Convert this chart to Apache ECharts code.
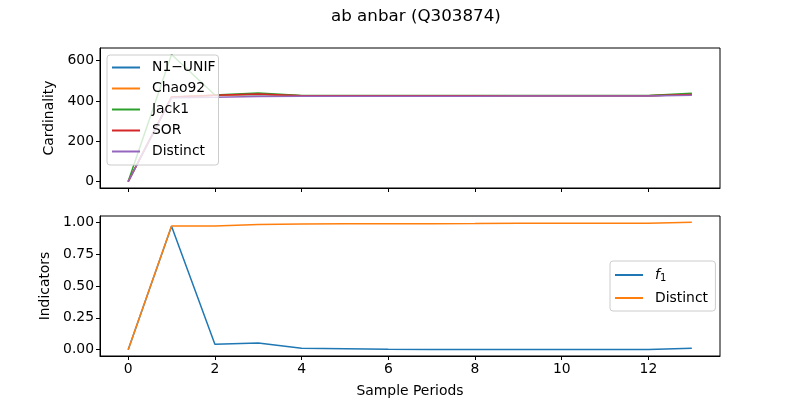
<!DOCTYPE html>
<html>
<head>
<meta charset="utf-8">
<script src="https://cdn.jsdelivr.net/npm/echarts@6/dist/echarts.min.js"></script>
<style>
  html, body { margin: 0; padding: 0; background: #fff; }
  #chart { width: 800px; height: 400px; }
</style>
</head>
<body>
<div id="chart"></div>
<script>
var TITLE_ = 'ab anbar (Q303874)';
var periods = [0, 1, 2, 3, 4, 5, 6, 7, 8, 9, 10, 11, 12, 13];
var xTicks = [0, 2, 4, 6, 8, 10, 12];
var cardTicks = [0, 200, 400, 600];
var indTicks = [0, 0.25, 0.5, 0.75, 1.0];

// cardinality estimates (top panel)
var n1Unif = [0, 418, 428, 432, 426, 426, 426, 426, 426, 426, 426, 426, 426, 432];
var chao92 = [0, 420, 428, 433, 426, 426, 426, 426, 426, 426, 426, 426, 426, 433];
var jack1 = [0, 631, 430, 440, 427, 427, 427, 427, 427, 427, 427, 427, 427, 438];
var sor = [0, 420, 428, 435, 426, 426, 426, 426, 426, 426, 426, 426, 426, 432];
var distinct = [0, 416, 418, 422, 424, 424, 424, 424, 424, 425, 425, 425, 425, 428];

// indicators (bottom panel)
var f1 = [0, 0.97, 0.043, 0.053, 0.010, 0.007, 0.004, 0.002, 0.002, 0.002, 0.002, 0.002, 0.002, 0.011];
var distinctRatio = [0, 0.971, 0.972, 0.984, 0.987, 0.989, 0.990, 0.990, 0.991, 0.993, 0.993, 0.993, 0.993, 1.0];

var color = ['#1f77b4', '#ff7f0e', '#2ca02c', '#d62728', '#9467bd'];
var FONT = 'DejaVu Sans';
var FS = 13.9;

function pairs(vals) {
	var out = [];
	for (var i = 0; i < periods.length; i++) {
		out.push([periods[i], vals[i]]);
	}
	return out;
}

function lineSerie(name, vals, c, idx) {
	return {
		name: name,
		type: 'line',
		xAxisIndex: idx,
		yAxisIndex: idx,
		data: pairs(vals),
		symbol: 'none',
		smooth: false,
		lineStyle: { color: c, width: 1.5 },
		itemStyle: { color: c },
		animation: false
	};
}

function xAxisDef(idx, showLabels) {
	return {
		type: 'value',
		gridIndex: idx,
		min: -0.65,
		max: 13.65,
		name: showLabels ? 'Sample Periods' : '',
		nameLocation: 'middle',
		nameGap: 28,
		nameTextStyle: { color: '#000', fontFamily: FONT, fontSize: FS },
		splitLine: { show: false },
		axisLine: { show: true, onZero: false, lineStyle: { color: '#000', width: 1 } },
		axisTick: { show: true, length: 4, customValues: xTicks, lineStyle: { color: '#000' } },
		axisLabel: { show: showLabels, customValues: xTicks, margin: 6, color: '#000', fontFamily: FONT, fontSize: FS }
	};
}

function yAxisDef(idx, min, max, ticks, name, fmt, gap) {
	return {
		type: 'value',
		gridIndex: idx,
		min: min,
		max: max,
		name: name,
		nameLocation: 'middle',
		nameGap: gap,
		nameRotate: 90,
		nameTextStyle: { color: '#000', fontFamily: FONT, fontSize: FS },
		splitLine: { show: false },
		axisLine: { show: true, onZero: false, lineStyle: { color: '#000', width: 1 } },
		axisTick: { show: true, length: 4, customValues: ticks, lineStyle: { color: '#000' } },
		axisLabel: { customValues: ticks, margin: 6, color: '#000', fontFamily: FONT, fontSize: FS, formatter: fmt }
	};
}

var option = {
	backgroundColor: '#ffffff',
	animation: false,
	title: {
		text: TITLE_,
		left: 326,
		top: 3,
		textStyle: { color: '#000', fontFamily: FONT, fontSize: 16.7, fontWeight: 'normal' }
	},
	grid: [
		{ left: 100, top: 48, width: 620, height: 140, show: true, borderColor: '#000', borderWidth: 1, backgroundColor: 'transparent' },
		{ left: 100, top: 216, width: 620, height: 140, show: true, borderColor: '#000', borderWidth: 1, backgroundColor: 'transparent' }
	],
	legend: [
		{
			data: ['N1\u2212UNIF', 'Chao92', 'Jack1', 'SOR', 'Distinct'],
			orient: 'vertical',
			left: 107,
			top: 55,
			padding: [4, 3, 5, 5],
			itemGap: 4,
			itemWidth: 28,
			itemHeight: 2,
			icon: 'rect',
			backgroundColor: 'rgba(255,255,255,0.8)',
			borderColor: '#cccccc',
			borderWidth: 1,
			borderRadius: 3,
			textStyle: { color: '#000', fontFamily: FONT, fontSize: FS, lineHeight: 17, padding: [0, 0, 0, 7] }
		},
		{
			data: ['f1', 'Distinct '],
			orient: 'vertical',
			left: 610,
			top: 261,
			padding: [5, 3, 4, 5],
			itemGap: 5,
			itemWidth: 28,
			itemHeight: 2,
			icon: 'rect',
			backgroundColor: 'rgba(255,255,255,0.8)',
			borderColor: '#cccccc',
			borderWidth: 1,
			borderRadius: 3,
			formatter: function (name) {
				if (name == 'f1') return '{i|f}{s|1}';
				return name;
			},
			textStyle: {
				color: '#000', fontFamily: FONT, fontSize: FS, lineHeight: 18, padding: [0, 0, 0, 7],
				rich: {
					i: { fontFamily: FONT, fontSize: FS, fontStyle: 'italic', color: '#000' },
					s: { fontFamily: FONT, fontSize: 10, color: '#000', padding: [6, 0, 0, 0] }
				}
			}
		}
	],
	xAxis: [xAxisDef(0, false), xAxisDef(1, true)],
	yAxis: [
		yAxisDef(0, -32, 663, cardTicks, 'Cardinality', function (v) { return String(v); }, 40),
		yAxisDef(1, -0.05, 1.05, indTicks, 'Indicators', function (v) { return v.toFixed(2); }, 45)
	],
	series: [
		lineSerie('N1\u2212UNIF', n1Unif, color[0], 0),
		lineSerie('Chao92', chao92, color[1], 0),
		lineSerie('Jack1', jack1, color[2], 0),
		lineSerie('SOR', sor, color[3], 0),
		lineSerie('Distinct', distinct, color[4], 0),
		lineSerie('f1', f1, color[0], 1),
		lineSerie('Distinct ', distinctRatio, color[1], 1)
	]
};

var reportChart = echarts.init(document.getElementById('chart'), null, { renderer: 'canvas' });
reportChart.setOption(option);
</script>
</body>
</html>
